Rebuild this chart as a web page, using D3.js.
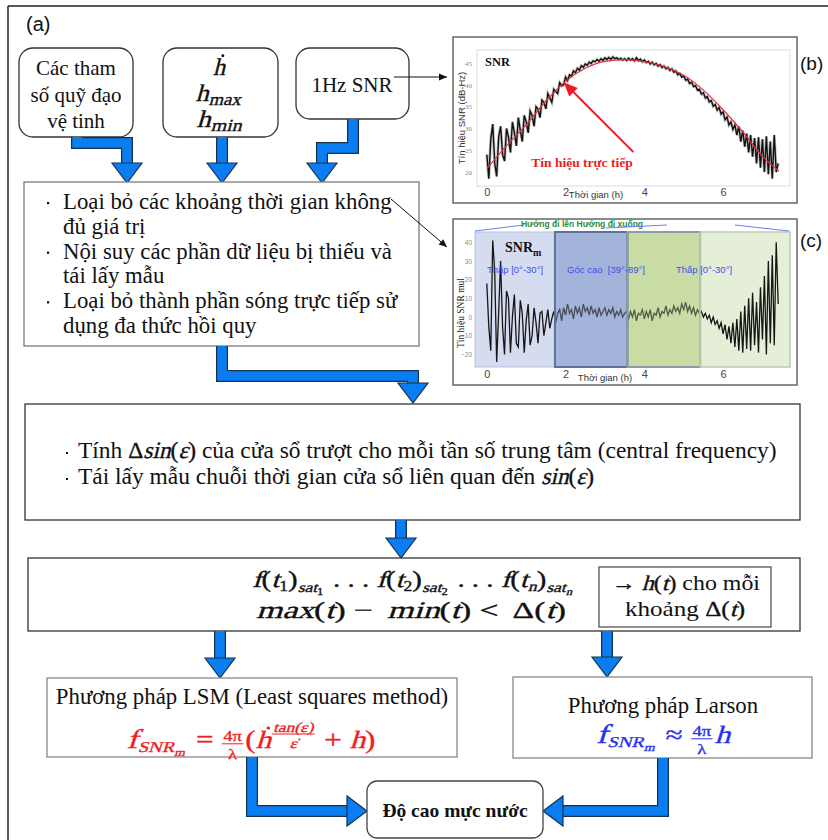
<!DOCTYPE html>
<html>
<head>
<meta charset="utf-8">
<script src="https://cdn.jsdelivr.net/npm/d3@7"></script>
<style>
body { margin: 0; background: #fff; }
text { font-family: "Liberation Serif", "Times New Roman", serif; }
</style>
</head>
<body>
<script>
// ---- data ----
// (b) 1Hz SNR, one value every 0.05 h starting at 0 h
const snrStep = 0.05;
const snrValues = [
  24.0,18.5,27.5,31.0,22.0,19.0,28.0,30.5,24.0,22.5,
  30.0,28.0,24.5,31.5,29.0,26.0,32.5,29.5,27.0,33.0,
  31.5,29.0,34.0,33.0,30.5,35.0,34.5,32.5,36.5,36.0,
  34.5,38.0,37.0,36.0,39.0,38.5,38.0,40.5,39.8,40.0,
  41.8,41.0,42.3,42.0,43.2,42.8,43.8,43.4,44.4,44.0,
  44.8,44.5,45.2,44.9,45.5,45.3,45.8,45.4,46.0,45.6,
  46.2,45.8,46.3,45.9,46.4,46.0,46.2,45.8,46.1,45.7,
  46.0,45.6,46.1,45.7,46.0,45.5,46.2,45.6,45.9,45.3,
  45.7,45.1,45.4,44.8,45.2,44.6,44.9,44.3,44.6,44.0,
  44.3,43.7,44.0,43.3,43.7,42.9,43.2,42.3,42.6,41.8,
  42.0,41.1,41.3,40.3,40.6,39.6,39.8,38.8,39.0,37.9,
  38.2,37.0,37.3,36.1,36.4,35.1,35.5,34.2,34.8,33.3,
  33.8,32.0,32.6,30.8,31.5,29.8,30.8,28.5,30.5,27.0,
  29.5,25.8,28.8,24.5,28.5,23.5,27.8,22.0,28.0,21.0,
  27.5,20.0,28.2,19.5,27.0,18.5,28.5,20.0,22.0
];
// (b) red direct-signal fit
const fitHours  = [0, 0.5, 1, 1.5, 2, 2.5, 3, 3.5, 4, 4.5, 5, 5.5, 6, 6.5, 7, 7.42];
const fitValues = [20.8, 26.0, 30.8, 36.3, 40.8, 43.8, 45.4, 45.8, 45.3, 44.2, 42.2, 38.8, 34.3, 29.2, 23.6, 20.2];
// (c) SNRm after removing the direct signal, every 0.05 h
const snrmValues = [
  18,-5,-18,41,25,-24,2,30,-5,-20,
  14,10,-19,0,12,-14,-16,9,2,-19,
  -2,7,-15,-10,5,-3,-14,2,3,-10,
  -3,4,-6,-1,3,-3,2,4,-2,5,
  1,7,2,4,-1,6,2,5,0,7,
  3,5,1,6,2,4,0,5,1,3,
  5,1,4,2,5,0,3,1,4,0,
  2,3,-1,3,0,4,-2,2,1,4,
  -1,3,0,4,-2,2,1,5,0,3,
  2,6,1,4,2,6,3,5,2,7,
  4,8,3,6,2,5,1,4,2,3,
  0,2,-1,1,-3,0,-4,-2,-6,-3,
  -9,-4,-12,-5,-14,-3,-16,-1,-18,3,
  -19,6,-17,10,-18,13,-15,8,-19,16,
  -12,22,-20,30,-14,33,-15,40,7
];
// (c) elevation zones (hours)
const zoneStart = [-0.3, 1.73, 3.57, 5.42];
const zoneEnd   = [1.73, 3.57, 5.42, 7.7];
const zoneNames = ["Thấp [0°-30°]", "Góc cao  [39°-89°]", "Thấp [0°-30°]"];
const snrTicks  = [20, 25, 30, 35, 40, 45];
const snrmTicks = [-20, -10, 0, 10, 20, 30, 40];
const hourTicks = [0, 2, 4, 6];

const BLUE = "#0a7df2";
const svg = d3.select("body").append("svg").attr("width", 828).attr("height", 840);

// outer frame
svg.append("line").attr("x1", 8).attr("y1", 6).attr("x2", 828).attr("y2", 6).attr("stroke", "#222").attr("stroke-width", 1.5);
svg.append("line").attr("x1", 8).attr("y1", 6).attr("x2", 8).attr("y2", 840).attr("stroke", "#222").attr("stroke-width", 1.5);

function label(x, y, txt, size, opts) {
  opts = opts || {};
  return svg.append("text").attr("x", x).attr("y", y)
    .attr("text-anchor", opts.anchor || "middle")
    .style("font-size", size + "px")
    .style("font-family", opts.sans ? "'Liberation Sans', Arial, sans-serif" : null)
    .style("font-weight", opts.bold ? "bold" : null)
    .style("fill", opts.fill || "#111")
    .text(txt);
}

function box(x, y, w, h, rx, stroke) {
  svg.append("rect").attr("x", x).attr("y", y).attr("width", w).attr("height", h)
    .attr("rx", rx).attr("fill", "#fff").attr("stroke", stroke || "#333").attr("stroke-width", 1.3);
}

function headPts(x1, y1, x2, y2, len, half) {
  const a = Math.atan2(y2 - y1, x2 - x1), c = Math.cos(a), s = Math.sin(a);
  const bx = x2 - c * len, by = y2 - s * len;
  return [[x2, y2], [bx - s * half, by + c * half], [bx + s * half, by - c * half]];
}

function thinArrow(x1, y1, x2, y2) {
  svg.append("line").attr("x1", x1).attr("y1", y1).attr("x2", x2).attr("y2", y2).attr("stroke", "#111").attr("stroke-width", 1);
  svg.append("polygon").attr("points", headPts(x1, y1, x2, y2, 8, 3.5).join(" ")).attr("fill", "#111");
}

// thick blue arrow along a centre line; last point is the tip
function blueArrow(pts) {
  const n = pts.length, p = pts[n - 2], t = pts[n - 1];
  const head = headPts(p[0], p[1], t[0], t[1], 20, 15);
  const a = Math.atan2(t[1] - p[1], t[0] - p[0]);
  const stem = pts.slice(0, n - 1).concat([[t[0] - Math.cos(a) * 19, t[1] - Math.sin(a) * 19]]);
  const path = d3.line()(stem);
  svg.append("path").attr("d", path).attr("fill", "none").attr("stroke", "#17324f").attr("stroke-width", 12).attr("stroke-linejoin", "miter");
  svg.append("path").attr("d", path).attr("fill", "none").attr("stroke", BLUE).attr("stroke-width", 9.5).attr("stroke-linejoin", "miter");
  svg.append("polygon").attr("points", head.join(" ")).attr("fill", BLUE).attr("stroke", "#17324f").attr("stroke-width", 1.2).attr("stroke-linejoin", "miter");
}

// row of math / text pieces; fractions as {frac:[num, den]}
// italic math is drawn as slanted upright serif (no italic face is guaranteed)
const M = (t, o) => Object.assign({ t: t, it: true, math: true }, o || {});
const O = (t, o) => Object.assign({ t: t, it: false, math: true }, o || {});
const T = (t, o) => Object.assign({ t: t, it: false, math: false }, o || {});
function piece(g, p, x, y, s, color, anchor) {
  const t = g.append("text").attr("text-anchor", anchor || "start")
    .attr("transform", "translate(" + x + "," + y + ")" + (p.it ? " skewX(-14)" : ""))
    .style("font-size", s + "px").style("white-space", "pre")
    .style("stroke", p.math ? color : null).style("stroke-width", p.math ? 0.35 : null)
    .text(p.t);
  return t;
}
function mathRow(x0, y, parts, color, anchor, base, k, sx) {
  k = k || 1; sx = sx || 1;
  const g = svg.append("g").style("fill", color);
  let x = 0;
  parts.forEach(p => {
    const s = (p.s || base) * k;
    if (p.frac) {
      const up = (p.up || 0) * k;
      const ny = y - up - s * 0.45, dy = y - up + s * 0.72;
      const num = piece(g, { t: p.frac[0], it: p.it, math: true }, 0, ny, s, color, "middle");
      const den = piece(g, { t: p.frac[1], it: p.it, math: true }, 0, dy, s, color, "middle");
      const w = Math.max(num.node().getComputedTextLength(), den.node().getComputedTextLength()) + 3;
      num.attr("transform", "translate(" + (x + w / 2) + "," + ny + ")" + (p.it ? " skewX(-14)" : ""));
      den.attr("transform", "translate(" + (x + w / 2) + "," + dy + ")" + (p.it ? " skewX(-14)" : ""));
      g.append("line").attr("x1", x + 0.5).attr("x2", x + w - 0.5)
        .attr("y1", y - up - s * 0.28).attr("y2", y - up - s * 0.28)
        .attr("stroke", color).attr("stroke-width", 1);
      x += w + 1;
    } else {
      const t = piece(g, p, x, y + (p.dy || 0) * k, s, color);
      const w = t.node().getComputedTextLength();
      if (p.dot) g.append("circle").attr("cx", x + w * 0.5 + s * 0.16).attr("cy", y - s * 0.8).attr("r", s * 0.06);
      x += w + (p.gap || 0) * k;
    }
  });
  const tx = anchor === "start" ? x0 : x0 - x * sx / 2;
  g.attr("transform", "translate(" + tx + ",0) scale(" + sx + ",1)");
  return { g: g, w: x };
}
// fit a row to the width seen in the picture: by font size, or by horizontal stretch
function fitRow(x0, y, parts, color, anchor, base, width, stretch) {
  const probe = mathRow(x0, y, parts, color, anchor, base, 1, 1);
  probe.g.remove();
  const f = width / probe.w;
  if (stretch) mathRow(x0, y, parts, color, anchor, base, 1, f);
  else mathRow(x0, y, parts, color, anchor, base, f, 1);
  return f;
}

label(26, 31, "(a)", 20, { anchor: "start", sans: true });

// ---- top row of input boxes ----
box(19, 48, 114, 89, 14);
label(76, 75, "Các tham", 21);
label(76, 102, "số quỹ đạo", 21);
label(76, 128, "vệ tinh", 21);

box(163, 48, 115, 89, 14);
mathRow(219, 75, [M("h", { dot: true })], "#111", "middle", 24);
fitRow(218, 101, [M("h"), M("max", { s: 17, dy: 4 })], "#111", "middle", 24, 45, true);
fitRow(219, 127, [M("h"), M("min", { s: 17, dy: 4 })], "#111", "middle", 24, 45, true);

box(296, 48, 113, 71, 14);
label(352, 92, "1Hz SNR", 21);
thinArrow(394, 77, 447, 77);

blueArrow([[77, 137], [77, 143], [127, 143], [127, 183]]);
blueArrow([[222, 137], [222, 183]]);
blueArrow([[353, 119], [353, 148], [322, 148], [322, 183]]);

// ---- pre-processing box ----
box(24, 182, 395, 164, 0, "#7a7a7a");
const prep = ["Loại bỏ các khoảng thời gian không", "đủ giá trị", "Nội suy các phần dữ liệu bị thiếu và",
  "tái lấy mẫu", "Loại bỏ thành phần sóng trực tiếp sử", "dụng đa thức hồi quy"];
prep.forEach((s, i) => {
  const y = 209 + i * 24.8;
  label(63, y, s, 22.8, { anchor: "start" });
  if (i % 2 === 0) svg.append("rect").attr("x", 47).attr("y", y - 7).attr("width", 2.2).attr("height", 2.2).attr("fill", "#111");
});
thinArrow(391, 199, 447, 247);

blueArrow([[222, 346], [222, 376], [413, 376], [413, 403]]);

// ---- sliding-window box ----
box(25, 404, 775, 116, 0, "#333");
const win1 = [T("Tính "), O("Δ"), M("sin"), O("("), M("ε"), O(")"), T(" của cửa sổ trượt cho mỗi tần số trung tâm (central frequency)")];
const win2 = [T("Tái lấy mẫu chuỗi thời gian cửa sổ liên quan đến "), M("sin"), O("("), M("ε"), O(")")];
[458, 484].forEach(y => svg.append("rect").attr("x", 66).attr("y", y - 6).attr("width", 2).attr("height", 2).attr("fill", "#111"));
const kWin = fitRow(78, 458, win1, "#111", "start", 20, 699);
mathRow(78, 484, win2, "#111", "start", 20, kWin);

blueArrow([[401, 520], [401, 558]]);

// ---- per-interval box ----
box(28, 558, 772, 73, 0, "#333");
const sat = k => [M("f"), O("("), M("t"), O(k, { s: 14, dy: 4 }), O(")"), M("sat", { s: 14, dy: 5 }), O(k, { s: 10, dy: 8, gap: 2 })];
fitRow(412, 587, sat("1").concat([O(" . . . ")], sat("2"), [O(" . . . ")],
  [M("f"), O("("), M("t"), M("n", { s: 14, dy: 4 }), O(")"), M("sat", { s: 14, dy: 5 }), M("n", { s: 10, dy: 8 })]), "#111", "middle", 23, 320, true);
fitRow(411, 618, [M("max"), O("("), M("t"), O(")"), O(" − ", { gap: 4 }), M("min"), O("("), M("t"), O(")"), O(" < ", { gap: 4 }), O("Δ("), M("t"), O(")")],
  "#111", "middle", 24, 310, true);
box(599, 567, 172, 60, 0, "#555");
fitRow(686, 590, [O("→ "), M("h"), O("("), M("t"), O(")"), T(" cho mỗi")], "#111", "middle", 21, 148, true);
fitRow(685, 616, [T("khoảng "), O("Δ("), M("t"), O(")")], "#111", "middle", 21, 120, true);

blueArrow([[220, 631], [220, 678]]);
blueArrow([[607, 631], [607, 677]]);

// ---- method boxes ----
box(47, 678, 410, 79, 0, "#888");
label(252, 704, "Phương pháp LSM (Least squares method)", 22.8);
fitRow(251, 748, [M("f", { s: 27 }), M("SNR", { s: 15, dy: 4 }), M("m", { s: 11, dy: 8, gap: 9 }), O("= "),
  { frac: ["4π", "λ"], s: 15, math: true }, O("("), M("h", { dot: true }),
  { frac: ["tan(ε)", "ε̇"], s: 14, up: 10, it: true, math: true }, O(" + "), M("h"), O(")")], "#f01e1e", "middle", 25, 249, true);

box(513, 677, 299, 81, 0, "#888");
label(663, 713, "Phương pháp Larson", 22.8);
fitRow(663, 743, [M("f", { s: 27 }), M("SNR", { s: 15, dy: 4 }), M("m", { s: 11, dy: 8, gap: 9 }), O("≈ "),
  { frac: ["4π", "λ"], s: 15, math: true }, M("h")], "#2a2ef0", "middle", 25, 134, true);

blueArrow([[252, 757], [252, 811], [367, 811]]);
blueArrow([[663, 758], [663, 811], [543, 811]]);
box(367, 781, 176, 57, 10, "#444");
label(455, 817, "Độ cao mực nước", 19.5, { bold: true });

// ---- (b) SNR chart ----
svg.append("rect").attr("x", 453).attr("y", 37).attr("width", 344).attr("height", 166).attr("fill", "#fff").attr("stroke", "#666").attr("stroke-width", 1.5);
svg.append("rect").attr("x", 477).attr("y", 50).attr("width", 313).attr("height", 136).attr("fill", "#fff").attr("stroke", "#dcdcdc");
label(800, 70, "(b)", 19, { anchor: "start", sans: true });

const xb = d3.scaleLinear().domain([-0.25, 7.7]).range([477, 790]);
const yb = d3.scaleLinear().domain([16.8, 48]).range([186, 50]);
const gb = svg.append("g");
const snrLine = d3.line().x((d, i) => xb(i * snrStep)).y(d => yb(d));
gb.append("path").datum(snrValues).attr("d", snrLine).attr("fill", "none").attr("stroke", "#777").attr("stroke-width", 3).attr("opacity", 0.45);
gb.append("path").datum(snrValues).attr("d", snrLine).attr("fill", "none").attr("stroke", "#111").attr("stroke-width", 1.4);
gb.append("path").datum(fitHours).attr("d", d3.line().curve(d3.curveMonotoneX).x(d => xb(d)).y((d, i) => yb(fitValues[i])))
  .attr("fill", "none").attr("stroke", "#e8323a").attr("stroke-width", 1.2);

const ayb = svg.append("g").attr("transform", "translate(477,0)").call(d3.axisLeft(yb).tickValues(snrTicks).tickSize(0).tickPadding(5));
ayb.select(".domain").remove();
ayb.selectAll("text").style("font-size", "7px").style("fill", "#888").style("font-family", "'Liberation Serif', serif");
const axb = svg.append("g").attr("transform", "translate(0,186)").call(d3.axisBottom(xb).tickValues(hourTicks).tickSize(0).tickPadding(2));
axb.select(".domain").remove();
axb.selectAll("text").style("font-size", "11px").style("fill", "#444").style("font-family", "'Liberation Sans', Arial, sans-serif");
label(596, 198, "Thời gian (h)", 9.5, { sans: true, fill: "#333" });
svg.append("text").attr("transform", "translate(465,118) rotate(-90)").attr("text-anchor", "middle")
  .style("font-size", "9.5px").style("font-family", "'Liberation Sans', Arial, sans-serif").style("fill", "#333").text("Tín hiệu SNR (dB-Hz)");
label(485, 66, "SNR", 12.5, { anchor: "start", bold: true });

// red annotation arrow to the fit
const tip = [xb(1.95), yb(40.6)], tail = [xb(3.72), yb(24.6)];
svg.append("line").attr("x1", tail[0]).attr("y1", tail[1]).attr("x2", tip[0] + 8).attr("y2", tip[1] + 8).attr("stroke", "#ec1c24").attr("stroke-width", 1.8);
svg.append("polygon").attr("points", headPts(tail[0], tail[1], tip[0], tip[1], 14, 6).join(" ")).attr("fill", "#ec1c24");
label(582, 167, "Tín hiệu trực tiếp", 13.5, { bold: true, fill: "#ec1c24" });

// ---- (c) SNRm chart ----
svg.append("rect").attr("x", 453).attr("y", 219).attr("width", 344).attr("height", 166).attr("fill", "#fff").attr("stroke", "#666").attr("stroke-width", 1.5);
label(800, 247, "(c)", 19, { anchor: "start", sans: true });

const xc = d3.scaleLinear().domain([-0.3, 7.7]).range([475, 790]);
const yc = d3.scaleLinear().domain([-26.7, 45.5]).range([367, 232]);
const zoneFill   = ["#d6dcf0", "#a4b4da", "#c9dca6", "#e5efd8"];
const zoneStroke = ["#b3bfdc", "#5d7299", "#8c9ca6", "#bccbb4"];
const zoneWidth  = [1, 2, 2, 1.5];
const gc = svg.append("g");
gc.selectAll(".zone").data(zoneStart).enter().append("rect").attr("class", "zone")
  .attr("x", d => xc(d)).attr("y", yc(45.5)).attr("width", (d, i) => xc(zoneEnd[i]) - xc(d)).attr("height", yc(-26.7) - yc(45.5))
  .attr("fill", (d, i) => zoneFill[i]);
gc.append("path").datum(snrmValues).attr("d", d3.line().x((d, i) => xc(i * snrStep)).y(d => yc(d)))
  .attr("fill", "none").attr("stroke", "#161616").attr("stroke-width", 1.3);
// tint over the high-angle zones so the signal takes their colour
gc.selectAll(".tint").data([1, 2]).enter().append("rect").attr("class", "tint")
  .attr("x", i => xc(zoneStart[i])).attr("y", yc(45.5)).attr("width", i => xc(zoneEnd[i]) - xc(zoneStart[i])).attr("height", yc(-26.7) - yc(45.5))
  .attr("fill", i => zoneFill[i]).attr("opacity", 0.35);
gc.selectAll(".zoneline").data(zoneStart).enter().append("rect").attr("class", "zoneline")
  .attr("x", d => xc(d)).attr("y", yc(45.5)).attr("width", (d, i) => xc(zoneEnd[i]) - xc(d)).attr("height", yc(-26.7) - yc(45.5))
  .attr("fill", "none").attr("stroke", (d, i) => zoneStroke[i]).attr("stroke-width", (d, i) => zoneWidth[i]);

const ayc = svg.append("g").attr("transform", "translate(475,0)").call(d3.axisLeft(yc).tickValues(snrmTicks).tickSize(0).tickPadding(3));
ayc.select(".domain").remove();
ayc.selectAll("text").style("font-size", "6.5px").style("fill", "#888").style("font-family", "'Liberation Sans', Arial, sans-serif");
const axc = svg.append("g").attr("transform", "translate(0,367)").call(d3.axisBottom(xc).tickValues(hourTicks).tickSize(0).tickPadding(3));
axc.select(".domain").remove();
axc.selectAll("text").style("font-size", "11px").style("fill", "#444").style("font-family", "'Liberation Sans', Arial, sans-serif");
label(605, 381, "Thời gian (h)", 9.5, { sans: true, fill: "#333" });
svg.append("text").attr("transform", "translate(464,313) rotate(-90)").attr("text-anchor", "middle")
  .style("font-size", "9.5px").style("fill", "#222").text("Tín hiệu SNR mul");

const snrm = label(505, 252, "SNR", 14, { anchor: "start", bold: true });
snrm.append("tspan").attr("dy", 4).style("font-size", "10px").text("m");
[[515, zoneNames[0]], [606, zoneNames[1]], [704, zoneNames[2]]].forEach(d =>
  label(d[0], 273, d[1], 9.5, { sans: true, fill: "#3f4ee8" }).style("white-space", "pre"));

// direction header
label(582, 227, "Hướng đi lên Hướng đi xuống", 8.5, { sans: true, bold: true, fill: "#2e8b3e" });
[[475, 231, 524, 225], [606, 228, 667, 225], [735, 225, 789, 231]].forEach(l =>
  svg.append("line").attr("x1", l[0]).attr("y1", l[1]).attr("x2", l[2]).attr("y2", l[3]).attr("stroke", "#6f7cf0").attr("stroke-width", 1));
</script>
</body>
</html>
